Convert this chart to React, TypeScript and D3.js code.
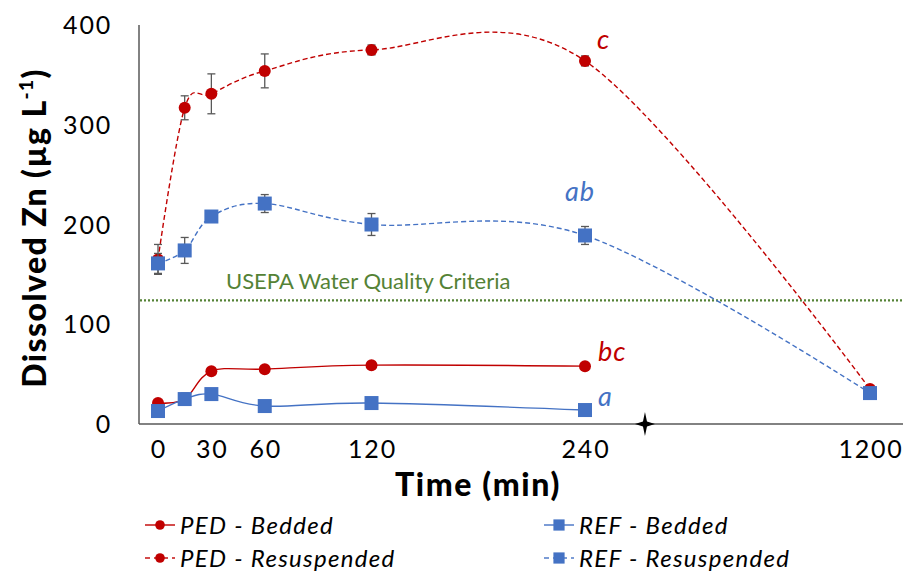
import React from "react";
import * as d3 from "d3";

// sampling times (min) and measured dissolved Zn (µg/L)
const times = [0, 15, 30, 60, 120, 240, 1200];
const bedTimes = [0, 15, 30, 60, 120, 240];
const xTicks = [0, 30, 60, 120, 240, 1200];
const yTicks = [0, 100, 200, 300, 400];

const pedResusp = [165, 317, 331, 354, 375, 364, 35];
const pedResuspErr = [15, 12, 20, 17, 5, 5, 0];
const refResusp = [161, 174, 208, 221, 200, 189, 31];
const refResuspErr = [10, 13, 0, 9, 11, 9, 0];
const pedBedded = [21, 25, 53, 55, 59, 58];
const pedBeddedErr = [0, 0, 0, 0, 0, 0];
const refBedded = [13, 25, 30, 18, 21, 14];
const refBeddedErr = [0, 6, 0, 0, 0, 0];

const usepaLimit = 124;
const breakTime = 442; // axis break marker between 240 and 1200

const RED = "#C00000";
const BLUE = "#4472C4";
const GREEN = "#548235";
const GREY = "#595959";
const FONT = "Lato, 'Noto Sans', sans-serif";

const W = 905;
const H = 573;

const x = d3.scaleLinear().domain([0, 240, 1200]).range([158, 585, 870]);
const y = d3.scaleLinear().domain([0, 400]).range([424, 25]);

const line = d3
  .line<[number, number]>()
  .x((d) => x(d[0]))
  .y((d) => y(d[1]))
  .curve(d3.curveCardinal.tension(0));

interface Series {
  name: string;
  t: number[];
  v: number[];
  err: number[];
  color: string;
  dashed: boolean;
  marker: "circle" | "square";
  tag: string;
  tagDx: number;
  tagDy: number;
}

const series: Series[] = [
  { name: "PED - Resuspended", t: times, v: pedResusp, err: pedResuspErr, color: RED, dashed: true, marker: "circle", tag: "c", tagDx: 12, tagDy: -12 },
  { name: "REF - Resuspended", t: times, v: refResusp, err: refResuspErr, color: BLUE, dashed: true, marker: "square", tag: "ab", tagDx: -20, tagDy: -34 },
  { name: "PED - Bedded", t: bedTimes, v: pedBedded, err: pedBeddedErr, color: RED, dashed: false, marker: "circle", tag: "bc", tagDx: 13, tagDy: -5 },
  { name: "REF - Bedded", t: bedTimes, v: refBedded, err: refBeddedErr, color: BLUE, dashed: false, marker: "square", tag: "a", tagDx: 13, tagDy: -4 },
];

const legendItems = [
  { s: series[2], lx: 145, ly: 525 },
  { s: series[3], lx: 544, ly: 525 },
  { s: series[0], lx: 145, ly: 558 },
  { s: series[1], lx: 544, ly: 558 },
];

const Marker: React.FC<{ cx: number; cy: number; s: Series; size?: number }> = ({ cx, cy, s, size = 1 }) =>
  s.marker === "circle" ? (
    <circle cx={cx} cy={cy} r={6 * size} fill={s.color} />
  ) : (
    <rect x={cx - 7 * size} y={cy - 7 * size} width={14 * size} height={14 * size} fill={s.color} />
  );

const starPath = d3.line()([
  [0, -12], [2, -2.5], [10, 0], [2, 2.5], [0, 12], [-2, 2.5], [-10, 0], [-2, -2.5],
]) + "Z";

export default function App() {
  return (
    <svg width={W} height={H} style={{ position: "absolute", left: 0, top: 0, background: "#fff" }} fontFamily={FONT}>
      {/* axes */}
      <line x1={139} x2={139} y1={y(400)} y2={y(0)} stroke={GREY} strokeWidth={1.5} />
      <line x1={139} x2={903} y1={y(0)} y2={y(0)} stroke={GREY} strokeWidth={1.5} />
      <path d={starPath} transform={`translate(${x(breakTime)},${y(0)})`} fill="#000" />

      {yTicks.map((t) => (
        <text key={t} x={112} y={y(t)} dy="0.36em" textAnchor="end" fontSize={25} letterSpacing={1.8} fill="#000">
          {t}
        </text>
      ))}
      {xTicks.map((t) => (
        <text key={t} x={x(t) + 1} y={458} textAnchor="middle" fontSize={25} letterSpacing={1.8} fill="#000">
          {t}
        </text>
      ))}

      <text x={478} y={496} textAnchor="middle" fontSize={32} fontWeight={900} letterSpacing={1.6} fill="#000">
        Time (min)
      </text>
      <text transform="translate(46,228) rotate(-90)" textAnchor="middle" fontSize={32} fontWeight={900} letterSpacing={1.4} fill="#000">
        Dissolved Zn (µg L<tspan fontSize={19} dy={-13}>-1</tspan>
        <tspan dy={13}>)</tspan>
      </text>

      {/* USEPA criterion */}
      <line x1={140} x2={903} y1={y(usepaLimit)} y2={y(usepaLimit)} stroke={GREEN} strokeWidth={2.2} strokeDasharray="2 2" />
      <text x={226} y={289} fontSize={22} fill={GREEN}>
        USEPA Water Quality Criteria
      </text>

      {series.map((s) => {
        const pts = s.t.map((t, i) => [t, s.v[i]] as [number, number]);
        return (
          <g key={s.name}>
            <path
              d={line(pts) || ""}
              fill="none"
              stroke={s.color}
              strokeWidth={1.4}
              strokeDasharray={s.dashed ? "5 3" : undefined}
            />
            {s.t.map((t, i) =>
              s.err[i] > 0 ? (
                <g key={t} stroke={GREY} strokeWidth={1.3}>
                  <line x1={x(t)} x2={x(t)} y1={y(s.v[i] + s.err[i])} y2={y(s.v[i] - s.err[i])} />
                  <line x1={x(t) - 4} x2={x(t) + 4} y1={y(s.v[i] + s.err[i])} y2={y(s.v[i] + s.err[i])} />
                  <line x1={x(t) - 4} x2={x(t) + 4} y1={y(s.v[i] - s.err[i])} y2={y(s.v[i] - s.err[i])} />
                </g>
              ) : null
            )}
            {s.t.map((t, i) => (
              <Marker key={t} cx={x(t)} cy={y(s.v[i])} s={s} />
            ))}
          </g>
        );
      })}

      {/* significance letters at 240 min */}
      {series.map((s) => {
        const i = s.t.indexOf(240);
        return (
          <text
            key={s.tag}
            x={x(240) + s.tagDx}
            y={y(s.v[i]) + s.tagDy}
            fontSize={27}
            fontStyle="italic"
            letterSpacing={1}
            fill={s.color}
          >
            {s.tag}
          </text>
        );
      })}

      {/* legend */}
      {legendItems.map(({ s, lx, ly }) => (
        <g key={s.name}>
          <line
            x1={lx}
            x2={lx + 30}
            y1={ly}
            y2={ly}
            stroke={s.color}
            strokeOpacity={0.7}
            strokeWidth={2}
            strokeDasharray={s.dashed ? "5 4" : undefined}
          />
          <Marker cx={lx + 15} cy={ly} s={s} size={0.8} />
          <text x={lx + 35} y={ly} dy="0.36em" fontSize={24} fontStyle="italic" letterSpacing={1.3} fill="#000">
            {s.name}
          </text>
        </g>
      ))}
    </svg>
  );
}
